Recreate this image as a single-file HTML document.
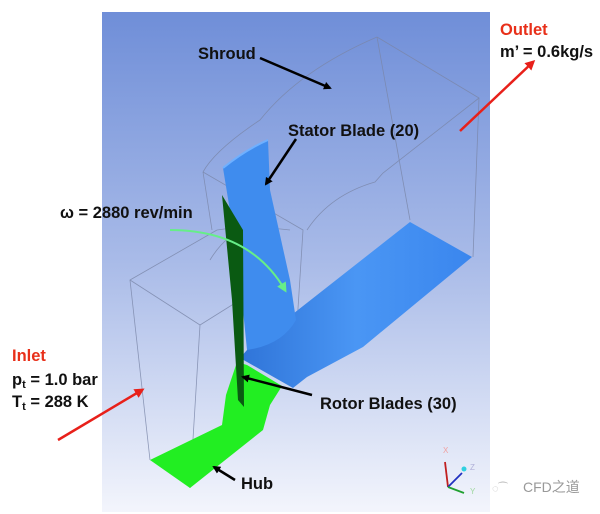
<!DOCTYPE html>
<html><head><meta charset="utf-8"><style>
html,body{margin:0;padding:0;background:#fff;}
svg{display:block;}
text{font-family:"Liberation Sans",sans-serif;font-weight:bold;font-size:16.5px;fill:#111;}
</style></head><body>
<svg width="600" height="514" viewBox="0 0 600 514" xmlns="http://www.w3.org/2000/svg">
<defs>
<linearGradient id="bg" x1="0" y1="0" x2="0" y2="1">
<stop offset="0" stop-color="#6f8ed8"/><stop offset="0.5" stop-color="#a9bbe8"/><stop offset="1" stop-color="#f3f5fc"/>
</linearGradient>
<linearGradient id="bl" x1="0" y1="0" x2="1" y2="0">
<stop offset="0" stop-color="#2f74d8"/><stop offset="0.5" stop-color="#4a96f4"/><stop offset="1" stop-color="#3a86ee"/>
</linearGradient>
<marker id="ab" markerWidth="8" markerHeight="8" refX="6" refY="4" orient="auto" markerUnits="userSpaceOnUse"><path d="M0,0 L8,4 L0,8 Z" fill="#000"/></marker>
<marker id="ar" markerWidth="10" markerHeight="10" refX="7" refY="5" orient="auto" markerUnits="userSpaceOnUse"><path d="M0,0 L10,5 L0,10 Z" fill="#e8201a"/></marker>
<marker id="ag" markerWidth="10" markerHeight="10" refX="7" refY="5" orient="auto" markerUnits="userSpaceOnUse"><path d="M0,0 L10,5 L0,10 Z" fill="#66ee88"/></marker>
</defs>
<rect x="102" y="12" width="388" height="500" fill="url(#bg)"/>
<g stroke="#7a86a8" stroke-width="0.8" fill="none" opacity="0.8">
<path d="M377,37 L479,98 L473,257"/>
<path d="M377,37 L410,220"/>
<path d="M377,37 Q300,70 260,120 Q215,150 203,172"/>
<path d="M479,98 L383,173 L375,182 Q330,195 307,230"/>
<path d="M203,172 L303,230 L293,387"/>
<path d="M203,172 L212,230 M217,230 L130,280 L150,460"/>
<path d="M130,280 L200,325 L190,488"/>
<path d="M200,325 L240,300 M217,230 Q250,225 290,230"/>
<path d="M210,260 Q225,235 250,225"/>
</g>
<path d="M247,350 L410,222 L472,257 L363,347 L307,377 L293,388 L240,358 Z" fill="url(#bl)"/>
<path d="M223,168 Q245,150 268,140 L270,190 L290,280 L296,320 Q282,345 247,350 L238,260 Z" fill="#3f8cee"/>
<path d="M223,168 Q245,150 268,140" stroke="#6fb0ff" stroke-width="2" fill="none"/>
<path d="M150,460 L190,488 L263,430 L270,405 L282,386 L247,365 L237,362 L226,395 L222,425 Z" fill="#22ee22"/>
<path d="M222,195 L243,230 L244,407 L238,400 L232,300 Z" fill="#0a5a12"/>
<path d="M170,230 Q250,230 285,290" stroke="#66ee88" stroke-width="2" fill="none" marker-end="url(#ag)"/>
<g stroke="#000" stroke-width="2.5" fill="none">
<path d="M260,58 L330,88" marker-end="url(#ab)"/>
<path d="M296,139 L266,184" marker-end="url(#ab)"/>
<path d="M312,395 L243,377" marker-end="url(#ab)"/>
<path d="M235,480 L214,467" marker-end="url(#ab)"/>
</g>
<g stroke="#e8201a" stroke-width="2.5" fill="none">
<path d="M460,131 L533,62" marker-end="url(#ar)"/>
<path d="M58,440 L142,390" marker-end="url(#ar)"/>
</g>
<text x="198" y="59">Shroud</text>
<text x="500" y="35" style="fill:#e8301a">Outlet</text>
<text x="500" y="57">m’ = 0.6kg/s</text>
<text x="288" y="136">Stator Blade (20)</text>
<text x="60" y="218">ω = 2880 rev/min</text>
<text x="12" y="361" style="fill:#e8301a">Inlet</text>
<text x="12" y="385">p<tspan font-size="11" dy="3">t</tspan><tspan dy="-3"> = 1.0 bar</tspan></text>
<text x="12" y="407">T<tspan font-size="11" dy="3">t</tspan><tspan dy="-3"> = 288 K</tspan></text>
<text x="320" y="409">Rotor Blades (30)</text>
<text x="241" y="489">Hub</text>
<g stroke-width="1.8" fill="none">
<path d="M448,487 L445,462" stroke="#c02020"/>
<path d="M448,487 L462,473" stroke="#2030c0"/>
<path d="M448,487 L464,493" stroke="#20a030"/>
</g>
<circle cx="464" cy="469" r="2.5" fill="#30d0e0"/>
<text x="443" y="453" style="font-size:8px;font-weight:normal;fill:#f0a0a0">X</text>
<text x="470" y="470" style="font-size:8px;font-weight:normal;fill:#b0b0d8">Z</text>
<text x="470" y="494" style="font-size:8px;font-weight:normal;fill:#a0d8a0">Y</text>
<text x="492" y="492" style="font-size:11px;font-weight:normal;fill:#bbb">◌⁀</text>
<text x="523" y="492" style="font-family:'Liberation Sans','Noto Sans CJK SC',sans-serif;font-size:14px;font-weight:normal;fill:#999">CFD之道</text>
</svg>
</body></html>
